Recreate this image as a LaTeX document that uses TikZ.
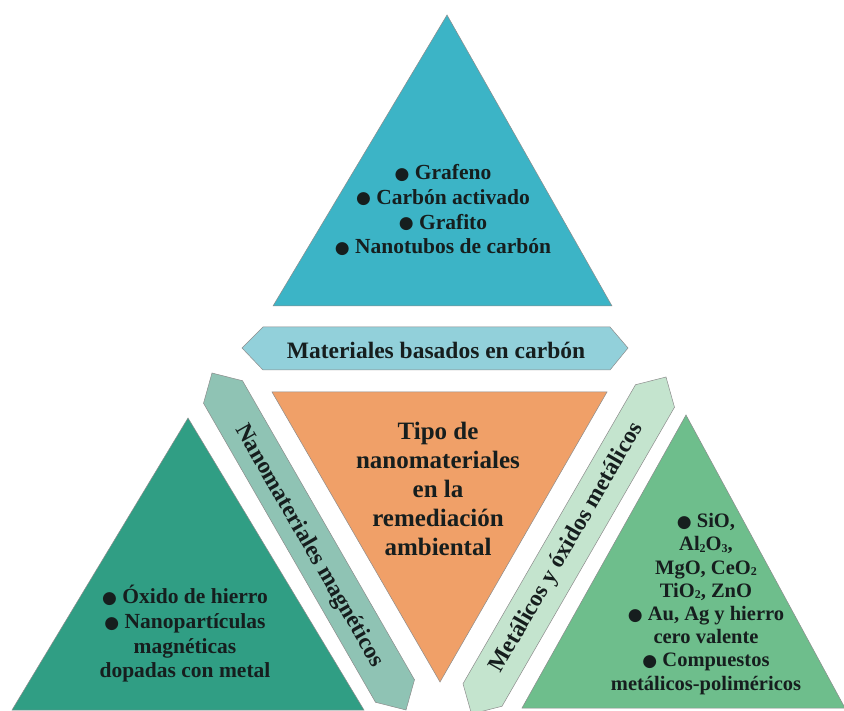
\documentclass[tikz,border=0pt]{standalone}
\usepackage{fontspec}
\setmainfont{Liberation Serif}
\newfontfamily\symf{DejaVu Sans}
\definecolor{cTop}{RGB}{60,180,198}
\definecolor{cHex}{RGB}{146,208,218}
\definecolor{cOrange}{RGB}{240,160,104}
\definecolor{cBandL}{RGB}{143,195,180}
\definecolor{cLeft}{RGB}{48,158,132}
\definecolor{cBandR}{RGB}{196,228,206}
\definecolor{cRight}{RGB}{110,190,140}
\definecolor{ink}{RGB}{22,30,30}
\newcommand\blt{\raisebox{0.5pt}{\symf\fontsize{17pt}{17pt}\selectfont ●}}
\newcommand\subd[1]{\raisebox{-1.5pt}{\fontsize{12pt}{12pt}\selectfont #1}}
\begin{document}
\begin{tikzpicture}[x=1pt,y=-1pt,
  shp/.style={draw=black!45, line width=0.5pt},
  lbl/.style={text=ink, align=center, inner sep=0pt},
  fbig/.style={font=\fontsize{25pt}{29pt}\selectfont\bfseries},
  fmid/.style={font=\fontsize{23.5pt}{27pt}\selectfont\bfseries},
  flist/.style={font=\fontsize{21.5pt}{24.7pt}\selectfont\bfseries},
  fsmall/.style={font=\fontsize{20.5pt}{23.2pt}\selectfont\bfseries}]
\useasboundingbox (0,0) rectangle (844,711);
\fill[white] (0,0) rectangle (844,711);
% top triangle
\path[shp, fill=cTop] (447,15) -- (612,306) -- (273,306) -- cycle;
% hexagon
\path[shp, fill=cHex] (242,348) -- (263,327) -- (610,327) -- (628,348) -- (610,370) -- (263,370) -- cycle;
% orange centre
\path[shp, fill=cOrange] (272,392) -- (607,392) -- (440,682) -- cycle;
% left band
\path[shp, fill=cBandL] (212,373) -- (242.5,380.75) -- (414.5,679.75) -- (406,710) -- (375.5,702.25) -- (203.5,403.25) -- cycle;
% right band
\path[shp, fill=cBandR] (666,377) -- (674.5,407.25) -- (502,706.25) -- (471.5,714) -- (463,683.75) -- (635.5,384.75) -- cycle;
% left triangle
\path[shp, fill=cLeft] (188,418) -- (364,710) -- (12,710) -- cycle;
% right triangle
\path[shp, fill=cRight] (686,415) -- (845,708) -- (522,708) -- cycle;

\node[lbl, flist] (carbonlist) at (443,210) {\blt\ Grafeno\\ \blt\ Carbón activado\\ \blt\ Grafito\\ \blt\ Nanotubos de carbón};
\node[lbl, fmid] (carbon) at (436,350) {Materiales basados en carbón};
\node[lbl, fbig] (centro) at (438,489) {Tipo de\\ nanomateriales\\ en la\\ remediación\\ ambiental};
\node[lbl, fmid, rotate=-60] (magn) at (309,546) {Nanomateriales magnéticos};
\node[lbl, fmid, rotate=60] (metal) at (567,548) {Metálicos y óxidos metálicos};
\node[lbl, flist] (magnlist) at (185,634) {\blt\ Óxido de hierro\\ \blt\ Nanopartículas\\ magnéticas\\ dopadas con metal};
\node[lbl, fsmall] (metallist) at (706,604) {\blt\ SiO,\\ Al\subd{2}O\subd{3},\\ MgO, CeO\subd{2}\\ TiO\subd{2}, ZnO\\ \blt\ Au, Ag y hierro\\ cero valente\\ \blt\ Compuestos\\ metálicos-poliméricos};
\end{tikzpicture}
\end{document}
